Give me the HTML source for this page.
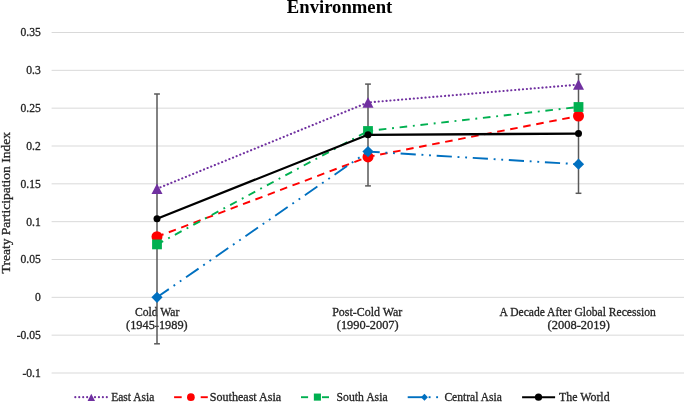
<!DOCTYPE html>
<html><head><meta charset="utf-8"><title>Environment</title><style>
html,body{margin:0;padding:0;background:#fff;}
body{width:685px;height:402px;overflow:hidden;}
svg{display:block;will-change:transform;}
text{font-family:"Liberation Serif",serif;fill:#262626;stroke:#262626;stroke-width:0.3px;}
.ax{font-size:11.6px;}
.lg{font-size:11.6px;}
.at{font-size:13px;}
.ti{font-size:18.2px;font-weight:bold;fill:#000;stroke:none;}
</style></head>
<body><svg width="685" height="402" viewBox="0 0 685 402"><rect width="685" height="402" fill="#fff"/><line x1="51.6" y1="32.50" x2="684" y2="32.50" stroke="#d9d9d9" stroke-width="1"/><line x1="51.6" y1="70.33" x2="684" y2="70.33" stroke="#d9d9d9" stroke-width="1"/><line x1="51.6" y1="108.17" x2="684" y2="108.17" stroke="#d9d9d9" stroke-width="1"/><line x1="51.6" y1="146.00" x2="684" y2="146.00" stroke="#d9d9d9" stroke-width="1"/><line x1="51.6" y1="183.83" x2="684" y2="183.83" stroke="#d9d9d9" stroke-width="1"/><line x1="51.6" y1="221.67" x2="684" y2="221.67" stroke="#d9d9d9" stroke-width="1"/><line x1="51.6" y1="259.50" x2="684" y2="259.50" stroke="#d9d9d9" stroke-width="1"/><line x1="51.6" y1="297.33" x2="684" y2="297.33" stroke="#d9d9d9" stroke-width="1"/><line x1="51.6" y1="335.17" x2="684" y2="335.17" stroke="#d9d9d9" stroke-width="1"/><line x1="51.6" y1="373.00" x2="684" y2="373.00" stroke="#d9d9d9" stroke-width="1"/><text id="y0" x="40.80" y="36.40" text-anchor="end" class="ax">0.35</text><text id="y1" x="40.80" y="74.23" text-anchor="end" class="ax">0.3</text><text id="y2" x="40.80" y="112.07" text-anchor="end" class="ax">0.25</text><text id="y3" x="40.80" y="149.90" text-anchor="end" class="ax">0.2</text><text id="y4" x="40.80" y="187.73" text-anchor="end" class="ax">0.15</text><text id="y5" x="40.80" y="225.57" text-anchor="end" class="ax">0.1</text><text id="y6" x="40.80" y="263.40" text-anchor="end" class="ax">0.05</text><text id="y7" x="40.80" y="301.23" text-anchor="end" class="ax">0</text><text id="y8" x="40.80" y="339.07" text-anchor="end" class="ax">-0.05</text><text id="y9" x="40.80" y="376.90" text-anchor="end" class="ax">-0.1</text><text id="atitle" transform="translate(9.60,202.70) rotate(-90)" text-anchor="middle" class="at" textLength="141.40" lengthAdjust="spacingAndGlyphs">Treaty Participation Index</text><text id="title" x="339.55" y="12.80" text-anchor="middle" class="ti" textLength="105.45" lengthAdjust="spacingAndGlyphs">Environment</text><text id="xa0" x="157.20" y="315.50" text-anchor="middle" class="ax" textLength="44.47" lengthAdjust="spacingAndGlyphs">Cold War</text><text id="xb0" x="156.90" y="328.80" text-anchor="middle" class="ax" textLength="61.57" lengthAdjust="spacingAndGlyphs">(1945-1989)</text><text id="xa1" x="367.25" y="315.50" text-anchor="middle" class="ax" textLength="70.01" lengthAdjust="spacingAndGlyphs">Post-Cold War</text><text id="xb1" x="367.75" y="328.80" text-anchor="middle" class="ax" textLength="61.87" lengthAdjust="spacingAndGlyphs">(1990-2007)</text><text id="xa2" x="577.65" y="315.50" text-anchor="middle" class="ax" textLength="156.17" lengthAdjust="spacingAndGlyphs">A Decade After Global Recession</text><text id="xb2" x="578.80" y="328.80" text-anchor="middle" class="ax" textLength="62.37" lengthAdjust="spacingAndGlyphs">(2008-2019)</text><text id="lg0" x="111.20" y="400.90" class="lg" textLength="43.18" lengthAdjust="spacingAndGlyphs">East Asia</text><text id="lg1" x="209.80" y="400.90" class="lg" textLength="71.41" lengthAdjust="spacingAndGlyphs">Southeast Asia</text><text id="lg2" x="336.60" y="400.90" class="lg" textLength="50.98" lengthAdjust="spacingAndGlyphs">South Asia</text><text id="lg3" x="444.40" y="400.90" class="lg" textLength="57.44" lengthAdjust="spacingAndGlyphs">Central Asia</text><text id="lg4" x="559.00" y="400.90" class="lg" textLength="50.61" lengthAdjust="spacingAndGlyphs">The World</text><line x1="157.0" y1="94.0" x2="157.0" y2="343.8" stroke="#595959" stroke-width="1.5"/><line x1="154.1" y1="94.0" x2="159.9" y2="94.0" stroke="#595959" stroke-width="1.5"/><line x1="154.1" y1="343.8" x2="159.9" y2="343.8" stroke="#595959" stroke-width="1.5"/><line x1="368.0" y1="84.1" x2="368.0" y2="185.9" stroke="#595959" stroke-width="1.5"/><line x1="365.1" y1="84.1" x2="370.9" y2="84.1" stroke="#595959" stroke-width="1.5"/><line x1="365.1" y1="185.9" x2="370.9" y2="185.9" stroke="#595959" stroke-width="1.5"/><line x1="578.5" y1="74.2" x2="578.5" y2="193.3" stroke="#595959" stroke-width="1.5"/><line x1="575.6" y1="74.2" x2="581.4" y2="74.2" stroke="#595959" stroke-width="1.5"/><line x1="575.6" y1="193.3" x2="581.4" y2="193.3" stroke="#595959" stroke-width="1.5"/><line x1="157.00" y1="188.70" x2="368.00" y2="102.45" stroke="#7030a0" stroke-width="2.1" stroke-linecap="round" stroke-dasharray="0.15 3.764" stroke-dashoffset="0.152"/><line x1="368.00" y1="102.45" x2="578.50" y2="84.60" stroke="#7030a0" stroke-width="2.1" stroke-linecap="round" stroke-dasharray="0.15 3.763" stroke-dashoffset="-2.883"/><path d="M157.00 183.45L162.50 193.95L151.50 193.95Z" fill="#7030a0"/><path d="M368.00 97.20L373.50 107.70L362.50 107.70Z" fill="#7030a0"/><path d="M578.50 79.35L584.00 89.85L573.00 89.85Z" fill="#7030a0"/><line x1="157.00" y1="236.70" x2="368.00" y2="156.90" stroke="#ff0000" stroke-width="1.9" stroke-dasharray="7.556 5.667" stroke-dashoffset="0.61"/><line x1="368.00" y1="156.90" x2="578.50" y2="116.00" stroke="#ff0000" stroke-width="1.9" stroke-dasharray="7.572 5.679" stroke-dashoffset="0.9"/><circle cx="157.00" cy="236.70" r="5.50" fill="#ff0000"/><circle cx="368.00" cy="156.90" r="5.50" fill="#ff0000"/><circle cx="578.50" cy="116.00" r="5.50" fill="#ff0000"/><line x1="157.00" y1="244.40" x2="368.00" y2="131.00" stroke="#00b050" stroke-width="1.9" stroke-dasharray="7.600 5.700 1.900 5.700" stroke-dashoffset="0.6"/><line x1="368.00" y1="131.00" x2="578.50" y2="107.00" stroke="#00b050" stroke-width="1.9" stroke-dasharray="7.620 5.715 1.905 5.715" stroke-dashoffset="10.085"/><rect x="152.10" y="239.50" width="9.80" height="9.80" fill="#00b050"/><rect x="363.10" y="126.10" width="9.80" height="9.80" fill="#00b050"/><rect x="573.60" y="102.10" width="9.80" height="9.80" fill="#00b050"/><line x1="157.00" y1="297.30" x2="368.00" y2="151.60" stroke="#0070c0" stroke-width="1.9" stroke-dasharray="15.200 5.700 1.900 5.700 1.900 5.700" stroke-dashoffset="0.8"/><line x1="368.00" y1="151.60" x2="578.50" y2="164.20" stroke="#0070c0" stroke-width="1.9" stroke-dasharray="15.216 5.706 1.902 5.706 1.902 5.706" stroke-dashoffset="3.48"/><path d="M157.00 291.70L162.60 297.30L157.00 302.90L151.40 297.30Z" fill="#0070c0"/><path d="M368.00 146.00L373.60 151.60L368.00 157.20L362.40 151.60Z" fill="#0070c0"/><path d="M578.50 158.60L584.10 164.20L578.50 169.80L572.90 164.20Z" fill="#0070c0"/><polyline points="157.00,218.70 368.00,134.80 578.50,133.60" fill="none" stroke="#000000" stroke-width="2.3" stroke-linejoin="round"/><circle cx="157.00" cy="218.70" r="3.50" fill="#000000"/><circle cx="368.00" cy="134.80" r="3.50" fill="#000000"/><circle cx="578.50" cy="133.60" r="3.50" fill="#000000"/><circle cx="75.30" cy="397.2" r="1.08" fill="#7030a0"/><circle cx="79.24" cy="397.2" r="1.08" fill="#7030a0"/><circle cx="83.18" cy="397.2" r="1.08" fill="#7030a0"/><circle cx="87.12" cy="397.2" r="1.08" fill="#7030a0"/><circle cx="91.06" cy="397.2" r="1.08" fill="#7030a0"/><circle cx="95.00" cy="397.2" r="1.08" fill="#7030a0"/><circle cx="98.94" cy="397.2" r="1.08" fill="#7030a0"/><circle cx="102.88" cy="397.2" r="1.08" fill="#7030a0"/><circle cx="106.82" cy="397.2" r="1.08" fill="#7030a0"/><path d="M91.3 393.75L95.05 400.9L87.55 400.9Z" fill="#7030a0"/><line x1="174.10" y1="397.2" x2="181.70" y2="397.2" stroke="#ff0000" stroke-width="1.9"/><line x1="200.70" y1="397.2" x2="207.80" y2="397.2" stroke="#ff0000" stroke-width="1.9"/><circle cx="190.9" cy="397.2" r="3.85" fill="#ff0000"/><line x1="301.00" y1="397.2" x2="308.10" y2="397.2" stroke="#00b050" stroke-width="1.9"/><line x1="322.00" y1="397.2" x2="329.00" y2="397.2" stroke="#00b050" stroke-width="1.9"/><rect x="313.85" y="393.55" width="7.1" height="7.1" fill="#00b050"/><line x1="407.70" y1="397.2" x2="422.90" y2="397.2" stroke="#0070c0" stroke-width="1.9"/><line x1="428.65" y1="397.2" x2="430.55" y2="397.2" stroke="#0070c0" stroke-width="1.9"/><line x1="436.15" y1="397.2" x2="438.05" y2="397.2" stroke="#0070c0" stroke-width="1.9"/><path d="M424.45 393.8L427.9 397.25L424.45 400.7L421.0 397.25Z" fill="#0070c0"/><line x1="522.10" y1="397.2" x2="555.10" y2="397.2" stroke="#000000" stroke-width="2.0"/><circle cx="538.5" cy="397.2" r="3.6" fill="#000000"/></svg></body></html>
